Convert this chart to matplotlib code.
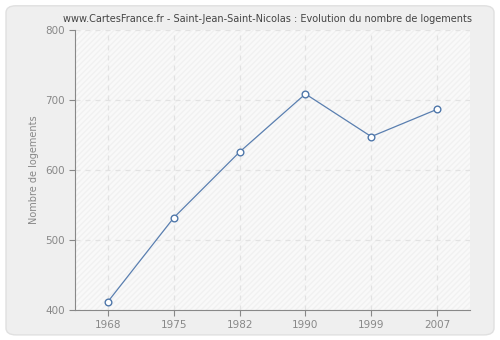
import matplotlib
matplotlib.use("Agg")
import matplotlib.pyplot as plt
from matplotlib.patches import FancyBboxPatch

years = ["1968", "1975", "1982", "1990", "1999", "2007"]
logements = [412, 532, 626, 709, 648, 687]
yticks = [400, 500, 600, 700, 800]

title = "www.CartesFrance.fr - Saint-Jean-Saint-Nicolas : Evolution du nombre de logements"
ylabel = "Nombre de logements"

fig = plt.figure(figsize=(5.0, 3.4), dpi=100)
fig.patch.set_facecolor("white")

bgax = fig.add_axes([0, 0, 1, 1], zorder=-10)
bgax.set_axis_off()
bgax.set_xlim(0, 1)
bgax.set_ylim(0, 1)
bgax.add_patch(FancyBboxPatch((0.012, 0.015), 0.976, 0.968,
                              boxstyle="round,pad=0,rounding_size=0.02",
                              facecolor="#efefef", edgecolor="#e0e0e0", linewidth=1.0))

ax = fig.add_axes([0.15, 0.088, 0.79, 0.823])
ax.set_facecolor("#f9f9f9")
x = list(range(len(years)))
ax.set_xlim(-0.5, len(years) - 0.5)
ax.set_ylim(400, 800)

ax.fill_between([-0.5, len(years) - 0.5], 400, 800, facecolor="none", edgecolor="#f1f1f1",
                hatch="//////", linewidth=0, zorder=0)

for xi in x:
    ax.axvline(xi, color="#e2e2e2", linestyle=(0, (4, 4)), linewidth=0.9, zorder=1)
for yi in yticks:
    ax.axhline(yi, color="#e2e2e2", linestyle=(0, (4, 4)), linewidth=0.9, zorder=1)

ax.plot(x, logements, color="#5a7fb0", linewidth=0.9, marker="o", markersize=4.8,
        markerfacecolor="white", markeredgecolor="#4f77aa", markeredgewidth=1.0, zorder=3)

ax.set_xticks(x)
ax.set_xticklabels(years)
ax.set_yticks(yticks)
for s in ["top", "right"]:
    ax.spines[s].set_visible(False)
for s in ["left", "bottom"]:
    ax.spines[s].set_color("#888888")
ax.tick_params(axis="both", colors="#888888", labelcolor="#888888", labelsize=7.5, length=4, width=0.8)
ax.set_ylabel(ylabel, color="#888888", fontsize=7)
fig.text(0.535, 0.945, title, ha="center", va="center", fontsize=7, color="#444444")

fig.savefig("out.png", dpi=100, facecolor=fig.get_facecolor())
